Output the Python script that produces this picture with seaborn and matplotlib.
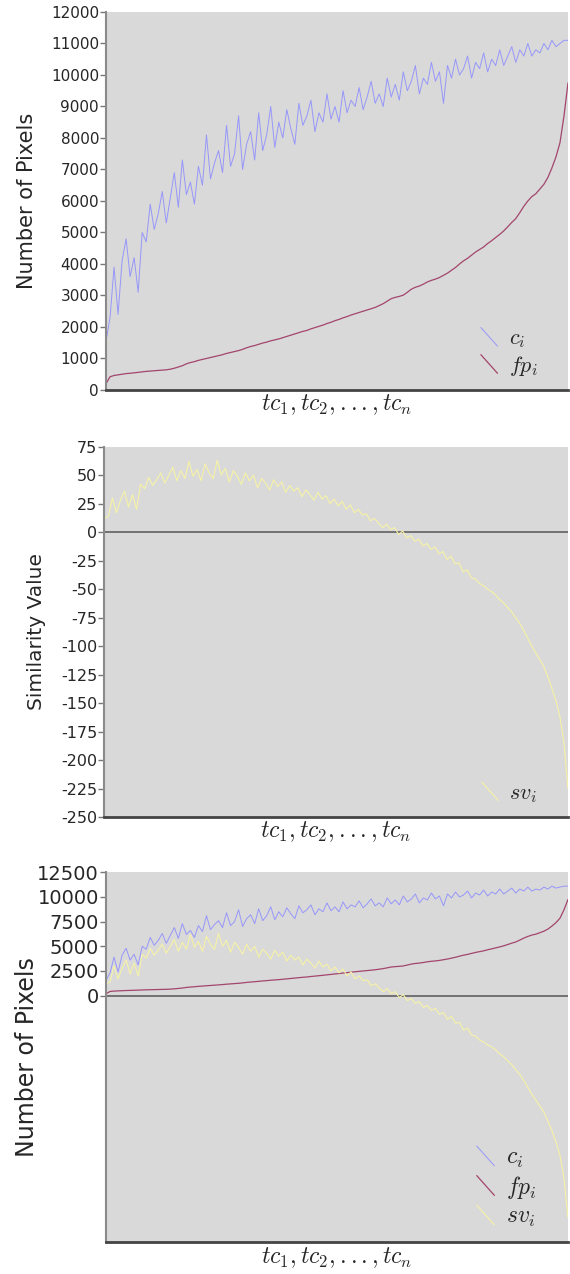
import numpy as np
import seaborn as sns
import matplotlib
matplotlib.use("Agg")
import matplotlib.pyplot as plt
from matplotlib.lines import Line2D
from matplotlib.legend_handler import HandlerBase


c_vals = [1550, 2300, 3900, 2400, 4100, 4800, 3600, 4200, 3100, 5000,
          4700, 5900, 5100, 5600, 6300, 5300, 6100, 6900, 5800, 7300,
          6200, 6600, 5900, 7100, 6500, 8100, 6700, 7200, 7600, 6900,
          8400, 7100, 7500, 8700, 7000, 7800, 8200, 7300, 8800, 7600,
          8100, 9000, 7700, 8500, 8000, 8900, 8300, 7800, 9100, 8400,
          8700, 9200, 8200, 8800, 8500, 9400, 8600, 9000, 8500, 9500,
          8800, 9200, 9000, 9600, 8900, 9300, 9800, 9100, 9400, 9000,
          9900, 9300, 9700, 9200, 10100, 9500, 9800, 10300, 9400, 9900,
          9700, 10400, 9800, 10100, 9100, 10300, 9900, 10500, 10000, 10200,
          10600, 9900, 10400, 10200, 10700, 10100, 10500, 10300, 10800, 10300,
          10600, 10900, 10400, 10800, 10600, 11000, 10600, 10800, 10700, 11000,
          10800, 11100, 10900, 11000, 11100, 11100]

fp_vals = [200, 420, 460, 480, 500, 520, 530, 545, 560, 575,
           590, 600, 610, 620, 630, 640, 660, 690, 730, 770,
           830, 870, 900, 940, 970, 1000, 1030, 1060, 1090, 1120,
           1160, 1190, 1220, 1250, 1290, 1340, 1380, 1410, 1450, 1490,
           1520, 1560, 1590, 1620, 1660, 1700, 1740, 1780, 1820, 1860,
           1890, 1940, 1980, 2020, 2060, 2110, 2150, 2200, 2240, 2290,
           2330, 2380, 2420, 2460, 2500, 2540, 2580, 2620, 2680, 2740,
           2820, 2900, 2940, 2970, 3010, 3100, 3200, 3260, 3300, 3360,
           3430, 3480, 3520, 3570, 3640, 3710, 3800, 3890, 4000, 4100,
           4180, 4280, 4380, 4460, 4540, 4650, 4740, 4840, 4940, 5050,
           5180, 5320, 5440, 5630, 5830, 6000, 6140, 6230, 6380, 6530,
           6750, 7050, 7400, 7850, 8700, 9750]

sv_vals = [12, 14, 30, 17, 28, 36, 22, 33, 20, 42,
           38, 48, 41, 46, 52, 43, 50, 57, 45, 54,
           47, 62, 49, 55, 45, 60, 52, 47, 63, 50,
           56, 44, 54, 49, 42, 52, 45, 50, 39, 47,
           43, 37, 46, 40, 44, 35, 41, 36, 39, 31,
           37, 33, 28, 35, 29, 32, 25, 29, 23, 27,
           20, 24, 17, 20, 15, 16, 10, 12, 8, 4,
           7, 2, 4, -2, 1, -5, -3, -8, -6, -12,
           -10, -15, -13, -19, -17, -24, -21, -28, -27, -35,
           -33, -40, -41, -45, -47, -50, -52, -55, -59, -62,
           -66, -70, -75, -80, -86, -93, -100, -106, -112, -118,
           -127, -137, -148, -162, -185, -225]

tc = np.arange(len(c_vals))
xlabel = r"$tc_1, tc_2, ..., tc_n$"

col_c = "#8f8fff"
col_fp = "#a3456c"
col_sv = "#f6f2a6"


class DiagHandler(HandlerBase):
    # legend handle drawn as a short diagonal stroke
    def create_artists(self, legend, orig_handle, xdescent, ydescent,
                       width, height, fontsize, trans):
        x0, x1 = -xdescent, -xdescent + width
        y0, y1 = -ydescent + height * 1.1, -ydescent - height * 0.1
        ln = Line2D([x0, x1], [y0, y1])
        ln.update_from(orig_handle)
        ln.set_transform(trans)
        return [ln]


sns.set_style("white")
plt.rcParams["mathtext.fontset"] = "cm"
plt.rcParams["font.family"] = ["DejaVu Sans"]

fig = plt.figure(figsize=(5.7, 12.74), dpi=100)
ax1 = fig.add_axes([0.186, 0.6939, 0.8105, 0.2967])
ax2 = fig.add_axes([0.183, 0.3587, 0.8135, 0.2907])
ax3 = fig.add_axes([0.186, 0.0249, 0.8105, 0.2904])


def style_axes(ax, tick_size):
    ax.set_facecolor("#d9d9d9")
    for s in ["top", "right"]:
        ax.spines[s].set_visible(False)
    ax.spines["left"].set_color("#8a8a8a")
    ax.spines["left"].set_linewidth(1.5)
    ax.spines["bottom"].set_color("#444444")
    ax.spines["bottom"].set_linewidth(2)
    ax.set_xticks([])
    ax.set_xlim(0, len(tc) - 1)
    ax.tick_params(axis="y", direction="out", length=4, width=1,
                   color="#777777", labelsize=tick_size, pad=1, left=True)


def add_legend(ax, labels, size, spacing):
    handles = ax.get_lines()[:len(labels)]
    ax.legend(handles, labels, loc="lower right", frameon=False,
              fontsize=size, handlelength=0.75, handletextpad=0.5,
              labelspacing=spacing, borderaxespad=0.15,
              bbox_to_anchor=(0.96, 0.0),
              handler_map={Line2D: DiagHandler()})


# panel 1: c_i and fp_i
sns.lineplot(x=tc, y=c_vals, ax=ax1, color=col_c, lw=0.7, alpha=0.9)
sns.lineplot(x=tc, y=fp_vals, ax=ax1, color=col_fp, lw=0.9)
style_axes(ax1, 11)
ax1.set_ylim(0, 12000)
ax1.set_yticks(range(0, 12001, 1000))
ax1.set_ylabel("Number of Pixels", fontsize=15)
ax1.yaxis.set_label_coords(-0.15, 0.5)
ax1.set_xlabel(xlabel, fontsize=17, labelpad=2)
add_legend(ax1, [r"$c_i$", r"$fp_i$"], 16, 0.15)

# panel 2: sv_i
sns.lineplot(x=tc, y=sv_vals, ax=ax2, color=col_sv, lw=0.8)
ax2.axhline(0, color="#606060", lw=1.2, zorder=1)
style_axes(ax2, 11.5)
ax2.set_ylim(-250, 75)
sv_ticks = list(range(-250, 76, 25))
ax2.set_yticks(sv_ticks)
ax2.set_yticklabels([str(t) for t in sv_ticks])
ax2.set_ylabel("Similarity Value", fontsize=14.5)
ax2.yaxis.set_label_coords(-0.125, 0.5)
ax2.set_xlabel(xlabel, fontsize=17, labelpad=2)
add_legend(ax2, [r"$sv_i$"], 16, 0.15)

# panel 3: all three, sv scaled by 100
sns.lineplot(x=tc, y=c_vals, ax=ax3, color=col_c, lw=0.7, alpha=0.9)
sns.lineplot(x=tc, y=fp_vals, ax=ax3, color=col_fp, lw=0.9)
sns.lineplot(x=tc, y=np.array(sv_vals) * 100, ax=ax3, color=col_sv, lw=0.8)
ax3.axhline(0, color="#606060", lw=1.2, zorder=1)
style_axes(ax3, 14)
ax3.set_ylim(-25000, 12500)
ax3.set_yticks(range(0, 12501, 2500))
ax3.set_ylabel("Number of Pixels", fontsize=17)
ax3.yaxis.set_label_coords(-0.145, 0.5)
ax3.set_xlabel(xlabel, fontsize=17, labelpad=2)
add_legend(ax3, [r"$c_i$", r"$fp_i$", r"$sv_i$"], 17, 0.15)

fig.savefig("out.png", dpi=100)
